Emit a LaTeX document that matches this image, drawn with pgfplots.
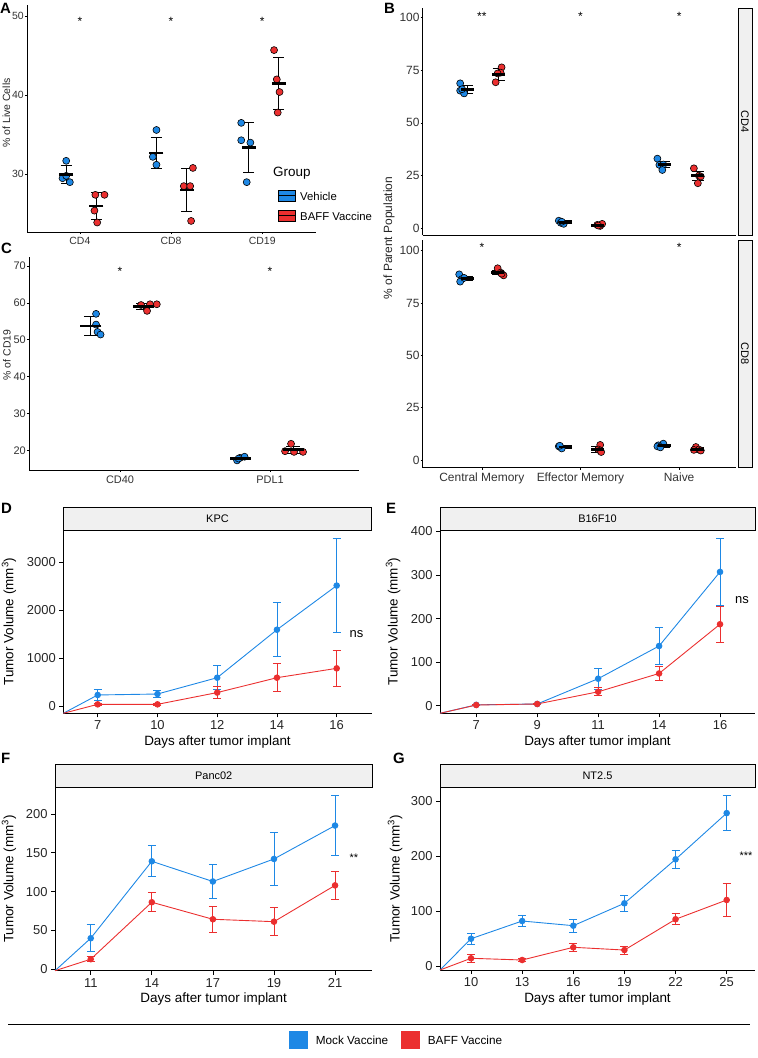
\documentclass[border=0pt]{standalone}
\usepackage{pgfplots}
\pgfplotsset{compat=1.18}
\usepackage{fontspec}
\setmainfont{Liberation Sans}
\definecolor{vblue}{RGB}{30,136,229}
\definecolor{vred}{RGB}{235,47,47}
\definecolor{stripgray}{RGB}{240,240,240}
\newcommand{\fs}[1]{\fontsize{#1}{#1}\selectfont}
\pgfplotsset{
  dotpanel/.style={scale only axis, axis lines*=left,
    axis line style={-, line width=0.9pt, black},
    tick align=outside, major tick length=2bp, tick style={black, line width=0.5pt},
    xtick={1,2,3}, clip=false, scaled y ticks=false,
    tick label style={font=\fs{10.5}, text=black!80},
    yticklabel style={inner sep=1bp},
    /pgf/number format/assume math mode=true,
    /pgf/number format/1000 sep={}},
  pts/.style={only marks, mark=*, mark size=3.5bp,
    mark options={fill=#1, draw=black, line width=0.6pt}},
  meanerr/.style 2 args={only marks, mark=-, mark size=#1,
    mark options={line width=2.8pt, black},
    error bars/.cd, y dir=both, y explicit,
    error bar style={line width=0.9pt, black},
    error mark options={rotate=90, mark size=#2, line width=0.9pt, black}},
  linepanel/.style={scale only axis, axis lines*=left,
    axis line style={-, line width=0.9pt, black},
    tick align=outside, major tick length=4bp, tick style={black, line width=0.7pt},
    clip=false, scaled y ticks=false,
    tick label style={font=\fs{13}, text=black!85},
    /pgf/number format/assume math mode=true,
    /pgf/number format/1000 sep={}},
  ser/.style={color=#1, line width=0.9pt, mark=*, mark size=2.8bp,
    mark options={fill=#1, draw=#1},
    error bars/.cd, y dir=both, y explicit,
    error bar style={line width=0.9pt, #1},
    error mark options={rotate=90, mark size=4bp, line width=0.9pt, #1}},
}
\begin{document}
\begin{tikzpicture}
\useasboundingbox (0,0) rectangle (758bp,-1058bp);

% ---------------- Panel A ----------------
\begin{axis}[dotpanel, at={(27bp,-232bp)}, anchor=south west, width=289bp, height=227bp,
  xmin=0.42, xmax=3.59, ymin=22.7, ymax=51.4, ytick={30,40,50},
  xticklabels={CD4,CD8,CD19}]
\addplot[pts=vblue] coordinates {(0.85,31.7) (0.81,29.5) (0.89,29.0) (0.85,29.8)
  (1.84,35.6) (1.80,32.2) (1.84,31.2)
  (2.77,36.5) (2.77,34.3) (2.87,34.0) (2.83,29.0)};
\addplot[pts=vred] coordinates {(1.17,27.4) (1.27,27.4) (1.16,25.4) (1.19,23.9)
  (2.24,30.8) (2.14,28.5) (2.21,28.5) (2.22,24.1)
  (3.13,45.7) (3.16,42.0) (3.19,40.4) (3.17,37.8)};
\addplot[meanerr={7bp}{5.5bp}] coordinates {(0.85,30.0) +- (0,1.15) (1.84,32.7) +- (0,1.95) (2.85,33.4) +- (0,3.2)
  (1.18,26.0) +- (0,1.7) (2.17,28.0) +- (0,2.75) (3.18,41.5) +- (0,3.3)};
\node[font=\fs{12}] at (axis cs:1,49.3) {*};
\node[font=\fs{12}] at (axis cs:2,49.3) {*};
\node[font=\fs{12}] at (axis cs:3,49.3) {*};
\end{axis}
\node[rotate=90, font=\fs{10.5}, text=black!85] at (6.5bp,-113bp) {\% of Live Cells};
% legend A
\node[anchor=west, inner sep=0pt, font=\fs{13.5}] at (273bp,-172.7bp) {Group};
\draw[fill=vblue, line width=0.6pt] (278bp,-190bp) rectangle (295bp,-201.7bp);
\draw[line width=1.2pt] (278bp,-195.85bp) -- (295bp,-195.85bp);
\node[anchor=west, inner sep=0pt, font=\fs{11.4}] at (300bp,-196bp) {Vehicle};
\draw[fill=vred, line width=0.6pt] (278bp,-210bp) rectangle (295bp,-221.7bp);
\draw[line width=1.2pt] (278bp,-215.85bp) -- (295bp,-215.85bp);
\node[anchor=west, inner sep=0pt, font=\fs{11.4}] at (300bp,-216bp) {BAFF Vaccine};

% ---------------- Panel C ----------------
\begin{axis}[dotpanel, at={(29bp,-470bp)}, anchor=south west, width=330bp, height=213bp,
  xmin=0.393, xmax=2.593, ymin=14.7, ymax=72.4, ytick={20,30,40,50,60,70},
  xtick={1,2}, xticklabels={CD40,PDL1}, tick label style={font=\fs{11}}]
\addplot[pts=vblue] coordinates {(0.84,57.0) (0.84,54.1) (0.85,52.1) (0.87,51.4)
  (1.78,17.3) (1.80,18.0) (1.83,18.3) (1.79,17.8)};
\addplot[pts=vred] coordinates {(1.14,59.4) (1.20,59.6) (1.245,59.6) (1.18,57.8)
  (2.14,21.8) (2.16,19.6) (2.22,19.6) (2.10,19.8)};
\addplot[meanerr={10.5bp}{7bp}] coordinates {(0.805,53.7) +- (0,2.5) (1.80,17.8) +- (0,0.2)
  (1.155,59.0) +- (0,0.75) (2.155,20.2) +- (0,1.0)};
\node[font=\fs{12}] at (axis cs:1,68.5) {*};
\node[font=\fs{12}] at (axis cs:2,68.5) {*};
\end{axis}
\node[rotate=90, font=\fs{10.5}, text=black!85] at (7bp,-355bp) {\% of CD19};

% ---------------- Panel B (CD4) ----------------
\begin{axis}[dotpanel, at={(422.7bp,-235bp)}, anchor=south west, width=313bp, height=227bp,
  xmin=0.40, xmax=3.574, ymin=-3.3, ymax=104.6, ytick={0,25,50,75,100},
  xtick=\empty, tick label style={font=\fs{12}}]
\addplot[pts=vblue] coordinates {(0.78,68.8) (0.78,65.3) (0.82,64.0) (0.80,66.0)
  (1.78,3.5) (1.80,2.5) (1.83,2.0) (1.81,3.0)
  (2.78,33.0) (2.80,30.0) (2.84,30.2) (2.83,27.6)};
\addplot[pts=vred] coordinates {(1.20,76.4) (1.19,73.9) (1.16,73.5) (1.14,69.3)
  (2.17,1.5) (2.20,1.0) (2.22,2.0) (2.18,1.2)
  (3.15,28.4) (3.20,24.9) (3.22,24.5) (3.19,21.3)};
\addplot[meanerr={6.5bp}{6bp}] coordinates {(0.85,66.0) +- (0,1.8) (1.85,2.8) +- (0,0.6) (2.85,30.1) +- (0,1.5)
  (1.17,72.9) +- (0,2.9) (2.17,1.4) +- (0,0.4) (3.19,24.8) +- (0,2.3)};
\node[font=\fs{12}] at (axis cs:1,100.8) {**};
\node[font=\fs{12}] at (axis cs:2,100.8) {*};
\node[font=\fs{12}] at (axis cs:3,100.8) {*};
\end{axis}

% ---------------- Panel B (CD8) ----------------
\begin{axis}[dotpanel, at={(422.7bp,-467.7bp)}, anchor=south west, width=313bp, height=227.7bp,
  xmin=0.40, xmax=3.574, ymin=-3.7, ymax=105.1, ytick={0,25,50,75,100},
  xticklabels={Central Memory,Effector Memory,Naive}, tick label style={font=\fs{12}}]
\addplot[pts=vblue] coordinates {(0.77,88.7) (0.80,86.5) (0.78,85.2) (0.82,87.0)
  (1.78,6.5) (1.80,6.0) (1.81,5.5) (1.79,6.8)
  (2.84,7.8) (2.79,7.0) (2.78,6.5) (2.81,6.0)};
\addplot[pts=vred] coordinates {(1.16,91.6) (1.19,89.5) (1.22,88.2) (1.20,89.0)
  (2.20,7.2) (2.18,5.0) (2.20,4.5) (2.21,3.8)
  (3.17,6.2) (3.20,5.0) (3.15,4.8) (3.22,4.5)};
\addplot[meanerr={6.5bp}{6bp}] coordinates {(0.85,86.6) +- (0,1.0) (1.85,6.2) +- (0,0.6) (2.85,6.8) +- (0,0.7)
  (1.16,89.6) +- (0,1.0) (2.17,5.1) +- (0,1.4) (3.19,5.1) +- (0,0.8)};
\node[font=\fs{12}] at (axis cs:1,101.4) {*};
\node[font=\fs{12}] at (axis cs:3,101.4) {*};
\end{axis}
\node[rotate=90, font=\fs{12}, text=black!85] at (389bp,-238bp) {\% of Parent Population};
\draw[fill=stripgray, line width=1pt] (738bp,-8bp) rectangle (752bp,-235bp);
\node[rotate=-90, font=\fs{11}] at (745bp,-121.5bp) {CD4};
\draw[fill=stripgray, line width=1pt] (738bp,-240bp) rectangle (752bp,-467.7bp);
\node[rotate=-90, font=\fs{11}] at (745bp,-353.8bp) {CD8};

% ---------------- Panel D ----------------
\begin{axis}[linepanel, at={(63.3bp,-713.3bp)}, anchor=south west, width=308.4bp, height=183.3bp,
  xmin=0.424, xmax=5.586, ymin=-152, ymax=3668, ytick={0,1000,2000,3000},
  xtick={1,2,3,4,5}, xticklabels={7,10,12,14,16}]
\addplot[vblue, line width=0.9pt] coordinates {(0.424,-152) (1,230)};
\addplot[vred, line width=0.9pt] coordinates {(0.424,-152) (1,35)};
\addplot[ser=vblue] coordinates {(1,230) +- (0,110) (2,250) +- (0,80) (3,590) +- (0,245) (4,1590) +- (0,567) (5,2510) +- (0,985)};
\addplot[ser=vred] coordinates {(1,35) +- (0,20) (2,35) +- (0,20) (3,280) +- (0,125) (4,590) +- (0,292) (5,785) +- (0,380)};
\node[font=\fs{13}] at (axis cs:5.33,1500) {ns};
\end{axis}
\draw[fill=stripgray, line width=0.9pt] (63.3bp,-507.7bp) rectangle (371.7bp,-530bp);
\node[font=\fs{11}] at (217.5bp,-518.9bp) {KPC};
\node[font=\fs{13.5}] at (217.5bp,-741.7bp) {Days after tumor implant};
\node[rotate=90, font=\fs{13.5}] at (9bp,-621.6bp) {Tumor Volume (mm\textsuperscript{3})};

% ---------------- Panel E ----------------
\begin{axis}[linepanel, at={(440bp,-713.3bp)}, anchor=south west, width=315bp, height=182.8bp,
  xmin=0.405, xmax=5.574, ymin=-17.4, ymax=402, ytick={0,100,200,300,400},
  xtick={1,2,3,4,5}, xticklabels={7,9,11,14,16}]
\addplot[vblue, line width=0.9pt] coordinates {(0.405,-17.4) (1,2)};
\addplot[vred, line width=0.9pt] coordinates {(0.405,-17.4) (1,1.6)};
\addplot[ser=vblue] coordinates {(1,2) +- (0,1) (2,4) +- (0,2) (3,62) +- (0,24) (4,137) +- (0,42) (5,307) +- (0,77)};
\addplot[ser=vred] coordinates {(1,1.6) +- (0,2) (2,4) +- (0,2) (3,32) +- (0,9) (4,74) +- (0,17) (5,187) +- (0,41)};
\node[font=\fs{13}] at (axis cs:5.36,243) {ns};
\end{axis}
\draw[fill=stripgray, line width=0.9pt] (440bp,-507.7bp) rectangle (755bp,-530.5bp);
\node[font=\fs{11}] at (597.5bp,-519.1bp) {B16F10};
\node[font=\fs{13.5}] at (597.5bp,-741.7bp) {Days after tumor implant};
\node[rotate=90, font=\fs{13.5}] at (393bp,-621.6bp) {Tumor Volume (mm\textsuperscript{3})};

% ---------------- Panel F ----------------
\begin{axis}[linepanel, at={(55bp,-970.7bp)}, anchor=south west, width=317.3bp, height=183.4bp,
  xmin=0.415, xmax=5.61, ymin=-1.8, ymax=234.2, ytick={0,50,100,150,200},
  xtick={1,2,3,4,5}, xticklabels={11,14,17,19,21}]
\addplot[vblue, line width=0.9pt] coordinates {(0.415,-1.8) (1,40)};
\addplot[vred, line width=0.9pt] coordinates {(0.415,-1.8) (1,13)};
\addplot[ser=vblue] coordinates {(1,40) +- (0,17.5) (2,139) +- (0,20) (3,113) +- (0,22) (4,142) +- (0,33.5) (5,185) +- (0,38.5)};
\addplot[ser=vred] coordinates {(1,13) +- (0,3.3) (2,86.3) +- (0,12) (3,64.4) +- (0,17) (4,61.3) +- (0,18) (5,108) +- (0,18.5)};
\node[font=\fs{11}] at (axis cs:5.31,144) {**};
\end{axis}
\draw[fill=stripgray, line width=0.9pt] (55bp,-764.3bp) rectangle (372.3bp,-787.3bp);
\node[font=\fs{11}] at (213.7bp,-775.8bp) {Panc02};
\node[font=\fs{13.5}] at (213.7bp,-999bp) {Days after tumor implant};
\node[rotate=90, font=\fs{13.5}] at (9bp,-879bp) {Tumor Volume (mm\textsuperscript{3})};

% ---------------- Panel G ----------------
\begin{axis}[linepanel, at={(440bp,-970bp)}, anchor=south west, width=315bp, height=182.7bp,
  xmin=0.393, xmax=6.554, ymin=-7.3, ymax=324.9, ytick={0,100,200,300},
  xtick={1,2,3,4,5,6}, xticklabels={10,13,16,19,22,25}]
\addplot[vblue, line width=0.9pt] coordinates {(0.393,-7.3) (1,49.6)};
\addplot[vred, line width=0.9pt] coordinates {(0.393,-7.3) (1,14)};
\addplot[ser=vblue] coordinates {(1,49.6) +- (0,10) (2,81.8) +- (0,9.7) (3,73.3) +- (0,11.5) (4,114) +- (0,14.8) (5,194) +- (0,16) (6,278) +- (0,31.5)};
\addplot[ser=vred] coordinates {(1,14) +- (0,7) (2,10.9) +- (0,2.5) (3,34) +- (0,7.5) (4,29) +- (0,7.3) (5,85) +- (0,10) (6,120) +- (0,30)};
\node[font=\fs{11}] at (axis cs:6.38,200) {***};
\end{axis}
\draw[fill=stripgray, line width=0.9pt] (440bp,-764.3bp) rectangle (755bp,-787.3bp);
\node[font=\fs{11}] at (597.5bp,-775.8bp) {NT2.5};
\node[font=\fs{13.5}] at (597.5bp,-999bp) {Days after tumor implant};
\node[rotate=90, font=\fs{13.5}] at (395bp,-879bp) {Tumor Volume (mm\textsuperscript{3})};

% ---------------- panel letters ----------------
\node[anchor=west, inner sep=0pt, font=\fs{15}\bfseries] at (0bp,-8bp) {A};
\node[anchor=west, inner sep=0pt, font=\fs{15}\bfseries] at (384bp,-8bp) {B};
\node[anchor=west, inner sep=0pt, font=\fs{15}\bfseries] at (1bp,-248bp) {C};
\node[anchor=west, inner sep=0pt, font=\fs{15}\bfseries] at (1bp,-508bp) {D};
\node[anchor=west, inner sep=0pt, font=\fs{15}\bfseries] at (386bp,-508bp) {E};
\node[anchor=west, inner sep=0pt, font=\fs{15}\bfseries] at (1bp,-758bp) {F};
\node[anchor=west, inner sep=0pt, font=\fs{15}\bfseries] at (393bp,-758bp) {G};

% ---------------- bottom legend ----------------
\draw[line width=0.8pt] (8bp,-1024bp) -- (750bp,-1024bp);
\fill[vblue] (289bp,-1030.7bp) rectangle (307.7bp,-1049bp);
\node[anchor=west, inner sep=0pt, font=\fs{11.8}] at (315.7bp,-1040bp) {Mock Vaccine};
\fill[vred] (401bp,-1030.7bp) rectangle (420bp,-1049bp);
\node[anchor=west, inner sep=0pt, font=\fs{11.8}] at (427.7bp,-1040bp) {BAFF Vaccine};
\end{tikzpicture}
\end{document}
